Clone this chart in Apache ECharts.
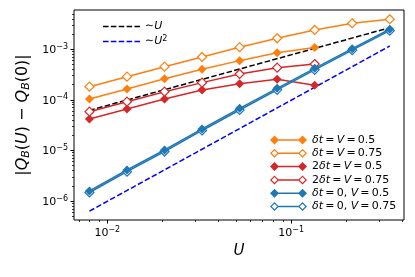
<!DOCTYPE html>
<html><head><meta charset="utf-8">
<script src="https://cdn.jsdelivr.net/npm/echarts@6/dist/echarts.min.js"></script>
<style>html,body{margin:0;padding:0;background:#fff}#c{width:415px;height:277px}</style>
</head><body><div id="c"></div>
<script>
// ---- data ----
const U = [0.008, 0.0128, 0.02048, 0.03277, 0.05243, 0.08389, 0.1342, 0.2147, 0.3436];
const dtV05   = [1.04e-4, 1.64e-4, 2.62e-4, 4.03e-4, 5.96e-4, 8.57e-4, 1.08e-3];
const dtV075  = [1.82e-4, 2.87e-4, 4.53e-4, 7.05e-4, 1.10e-3, 1.65e-3, 2.41e-3, 3.27e-3, 3.92e-3];
const dt2V05  = [4.19e-5, 6.6e-5, 1.04e-4, 1.57e-4, 2.09e-4, 2.55e-4, 1.94e-4];
const dt2V075 = [5.83e-5, 9.2e-5, 1.45e-4, 2.19e-4, 3.25e-4, 4.33e-4, 5.11e-4];
const dt0V05  = [1.58e-6, 4.1e-6, 1.02e-5, 2.66e-5, 6.8e-5, 1.69e-4, 4.2e-4, 1.03e-3, 2.49e-3];
const dt0V075 = [1.47e-6, 3.8e-6, 9.5e-6, 2.48e-5, 6.3e-5, 1.58e-4, 3.92e-4, 9.6e-4, 2.33e-3];
const refU  = [[0.008, 6.2e-5], [0.3436, 2.67e-3]];
const refU2 = [[0.008, 6.3e-7], [0.3436, 1.16e-3]];

const xMajorTicks = [0.01, 0.1];
const xMinorTicks = [0.007, 0.008, 0.009, 0.02, 0.03, 0.04, 0.05, 0.06, 0.07, 0.08, 0.09, 0.2, 0.3, 0.4];
const yMajorTicks = [1e-6, 1e-5, 1e-4, 1e-3];
const yMinorTicks = [5e-7, 6e-7, 7e-7, 8e-7, 9e-7,
  2e-6, 3e-6, 4e-6, 5e-6, 6e-6, 7e-6, 8e-6, 9e-6,
  2e-5, 3e-5, 4e-5, 5e-5, 6e-5, 7e-5, 8e-5, 9e-5,
  2e-4, 3e-4, 4e-4, 5e-4, 6e-4, 7e-4, 8e-4, 9e-4,
  2e-3, 3e-3, 4e-3, 5e-3];
const xRange = [0.006592, 0.4107];
const yRange = [4.207e-7, 5.98e-3];

const ORANGE = '#ff7f0e', RED = '#d62728', BLUE = '#1f77b4';
const FONT = 'DejaVu Sans';
const TS = '\u2009'; // thin space, as in math text

const names = ['δt = V = 0.5', 'δt = V = 0.75', '2δt = V = 0.5', '2δt = V = 0.75', 'δt = 0, V = 0.5', 'δt = 0, V = 0.75'];
const richNames = {
  'δt = V = 0.5': '{i|δt}' + TS + '=' + TS + '{i|V}' + TS + '=' + TS + '0.5',
  'δt = V = 0.75': '{i|δt}' + TS + '=' + TS + '{i|V}' + TS + '=' + TS + '0.75',
  '2δt = V = 0.5': '2{i|δt}' + TS + '=' + TS + '{i|V}' + TS + '=' + TS + '0.5',
  '2δt = V = 0.75': '2{i|δt}' + TS + '=' + TS + '{i|V}' + TS + '=' + TS + '0.75',
  'δt = 0, V = 0.5': '{i|δt}' + TS + '=' + TS + '0, {i|V}' + TS + '=' + TS + '0.5',
  'δt = 0, V = 0.75': '{i|δt}' + TS + '=' + TS + '0, {i|V}' + TS + '=' + TS + '0.75',
  '~U': '∼{i|U}',
  '~U2': '∼{i|U}{s|2}'
};

function pairs(vals) { return vals.map((v, i) => [U[i], v]); }

function markSeries(name, vals, color, open, z) {
  return {
    name, type: 'line', data: pairs(vals), xAxisIndex: 0, yAxisIndex: 0,
    symbol: 'diamond', symbolSize: 9, z,
    color,
    itemStyle: open ? { color: '#fff', borderColor: color, borderWidth: 1.2 } : { color: color, borderWidth: 0 },
    lineStyle: { color, width: 1.5 },
    emphasis: { disabled: true }
  };
}

const filledIcon = 'path://M0,4.5L4.5,0L9,4.5L4.5,9ZM8,3.75L29,3.75L29,5.25L8,5.25ZM28,4.5L32.5,0L37,4.5L32.5,9Z';
const openIcon = 'path://M0,4.5L4.5,0L9,4.5L4.5,9ZM1.7,4.5L4.5,7.3L7.3,4.5L4.5,1.7Z' +
  'M8,3.75L29,3.75L29,5.25L8,5.25Z' +
  'M28,4.5L32.5,0L37,4.5L32.5,9ZM29.7,4.5L32.5,7.3L35.3,4.5L32.5,1.7Z';
const dashIcon = 'path://M0,0L5.5,0L5.5,1.5L0,1.5ZM7.8,0L13.3,0L13.3,1.5L7.8,1.5ZM15.6,0L21.1,0L21.1,1.5L15.6,1.5ZM23.4,0L28.9,0L28.9,1.5L23.4,1.5ZM31.2,0L36.7,0L36.7,1.5L31.2,1.5Z';

const legendColors = [ORANGE, ORANGE, RED, RED, BLUE, BLUE];

function powLabel(v) {
  const e = Math.round(Math.log10(v));
  return '{b|10}{s|−' + (-e) + '}';
}
const tickRich = {
  b: { fontSize: 11, fontFamily: FONT, color: '#000', verticalAlign: 'bottom' },
  s: { fontSize: 8, fontFamily: FONT, color: '#000', verticalAlign: 'top', padding: [0, 0, 5, 0] }
};

const gridRect = { left: 74, top: 10, width: 330, height: 210 };

const option = {
  animation: false,
  backgroundColor: '#fff',
  grid: [
    Object.assign({ show: true, borderColor: '#000', borderWidth: 1, backgroundColor: 'transparent', containLabel: false }, gridRect),
    Object.assign({ show: false, containLabel: false }, gridRect)
  ],
  xAxis: [
    {
      type: 'log', gridIndex: 0, min: xRange[0], max: xRange[1], position: 'bottom',
      name: 'U', nameLocation: 'middle', nameGap: 22,
      nameTextStyle: { fontSize: 15, fontStyle: 'italic', fontFamily: FONT, color: '#000' },
      axisLine: { show: false },
      axisTick: { show: true, length: 3.5, lineStyle: { color: '#000', width: 1 }, customValues: xMajorTicks },
      axisLabel: { customValues: xMajorTicks, formatter: powLabel, margin: 6, rich: tickRich },
      splitLine: { show: false }, minorTick: { show: false }
    },
    {
      type: 'log', gridIndex: 1, min: xRange[0], max: xRange[1], position: 'bottom',
      axisLine: { show: false },
      axisTick: { show: true, length: 2, lineStyle: { color: '#000', width: 0.8 }, customValues: xMinorTicks },
      axisLabel: { show: false }, splitLine: { show: false }
    }
  ],
  yAxis: [
    {
      type: 'log', gridIndex: 0, min: yRange[0], max: yRange[1], position: 'left',
      name: '|{i|Q}{sub|B}({i|U}) − {i|Q}{sub|B}(0)|', nameLocation: 'middle', nameGap: 41, nameRotate: 90,
      nameTextStyle: {
        fontSize: 16, fontFamily: FONT, color: '#000',
        rich: {
          i: { fontSize: 16, fontStyle: 'italic', fontFamily: FONT, color: '#000', verticalAlign: 'top' },
          sub: { fontSize: 11, fontStyle: 'italic', fontFamily: FONT, color: '#000', verticalAlign: 'bottom', padding: [5, 0, 0, 0] }
        }
      },
      axisLine: { show: false },
      axisTick: { show: true, length: 3.5, lineStyle: { color: '#000', width: 1 }, customValues: yMajorTicks },
      axisLabel: { customValues: yMajorTicks, formatter: powLabel, margin: 6, rich: tickRich },
      splitLine: { show: false }, minorTick: { show: false }
    },
    {
      type: 'log', gridIndex: 1, min: yRange[0], max: yRange[1], position: 'left',
      axisLine: { show: false },
      axisTick: { show: true, length: 2, lineStyle: { color: '#000', width: 0.8 }, customValues: yMinorTicks },
      axisLabel: { show: false }, splitLine: { show: false }
    }
  ],
  legend: [
    {
      orient: 'vertical', left: 265, top: 128.5, itemWidth: 37, itemHeight: 9, itemGap: 0.3, itemTextGap: 4,
      selectedMode: false,
      data: names.map((n, i) => ({
        name: n, icon: (i % 2 === 0) ? filledIcon : openIcon,
        itemStyle: { color: legendColors[i], borderWidth: 0 }
      })),
      formatter: n => richNames[n],
      textStyle: {
        fontSize: 11, fontFamily: FONT, color: '#000', lineHeight: 13,
        rich: { i: { fontSize: 11, fontStyle: 'italic', fontFamily: FONT, color: '#000', lineHeight: 13 } }
      }
    },
    {
      orient: 'vertical', left: 98, top: 16, itemWidth: 37, itemHeight: 10, itemGap: 3, itemTextGap: 5,
      selectedMode: false,
      data: [
        { name: '~U', icon: dashIcon, itemStyle: { color: '#000', borderWidth: 0 } },
        { name: '~U2', icon: dashIcon, itemStyle: { color: '#0000ff', borderWidth: 0 } }
      ],
      formatter: n => richNames[n],
      textStyle: {
        fontSize: 11, fontFamily: FONT, color: '#000',
        rich: {
          i: { fontSize: 11, fontStyle: 'italic', fontFamily: FONT, color: '#000' },
          s: { fontSize: 8, fontFamily: FONT, color: '#000', verticalAlign: 'top', padding: [0, 0, 5, 0] }
        }
      }
    }
  ],
  series: [
    { name: '~U', type: 'line', data: refU, symbol: 'none', color: '#000', lineStyle: { color: '#000', width: 1.5, type: [5.5, 2.4] }, z: 1, emphasis: { disabled: true } },
    { name: '~U2', type: 'line', data: refU2, symbol: 'none', color: '#0000ff', lineStyle: { color: '#0000ff', width: 1.5, type: [5.5, 2.4] }, z: 1, emphasis: { disabled: true } },
    markSeries(names[0], dtV05, ORANGE, false, 2),
    markSeries(names[1], dtV075, ORANGE, true, 2),
    markSeries(names[2], dt2V05, RED, false, 3),
    markSeries(names[3], dt2V075, RED, true, 3),
    markSeries(names[4], dt0V05, BLUE, false, 5),
    markSeries(names[5], dt0V075, BLUE, true, 4)
  ]
};

const chart = echarts.init(document.getElementById('c'), null, { renderer: 'canvas' });
chart.setOption(option);
</script>
</body></html>
